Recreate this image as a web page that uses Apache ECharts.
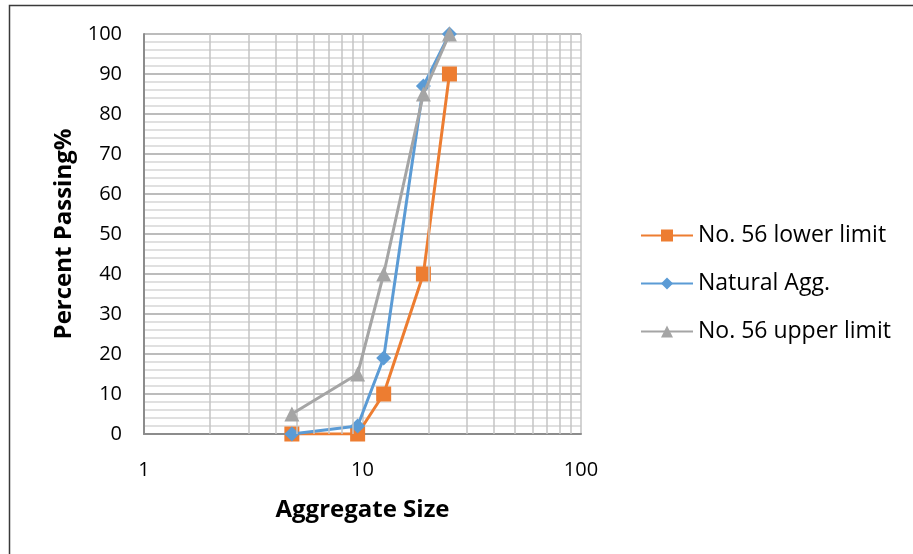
<!DOCTYPE html>
<html>
<head>
<meta charset="utf-8">
<script src="https://cdn.jsdelivr.net/npm/echarts@6/dist/echarts.min.js"></script>
<style>
  html, body { margin: 0; padding: 0; background: #fff; }
  #chart { width: 913px; height: 554px; }
</style>
</head>
<body>
<div id="chart"></div>
<script>
// Sieve sizes (mm) and percent passing for each gradation curve
const sieveSizes = [4.75, 9.5, 12.5, 19, 25];
const lowerLimit = [0, 0, 10, 40, 90];
const naturalAgg = [0, 2, 19, 87, 100];
const upperLimit = [5, 15, 40, 85, 100];
const seriesNames = ['No. 56 lower limit', 'Natural Agg.', 'No. 56 upper limit'];
// Log-scale minor grid positions
const minorX = [2, 3, 4, 5, 6, 7, 8, 9, 20, 30, 40, 50, 60, 70, 80, 90];

const pairs = (ys) => sieveSizes.map((x, i) => [x, ys[i]]);
const font = '"Open Sans", "Liberation Sans", sans-serif';

const chart = echarts.init(document.getElementById('chart'), null, { renderer: 'canvas' });

chart.setOption({
  backgroundColor: '#ffffff',
  animation: false,
  graphic: [{
    type: 'rect',
    shape: { x: 9.5, y: 5.5, width: 1200, height: 1200 },
    style: { fill: 'none', stroke: '#3a3a3a', lineWidth: 1.5 },
    silent: true
  }],
  grid: { left: 144, top: 34, right: 332, bottom: 120 },
  xAxis: {
    type: 'log',
    logBase: 10,
    min: 1,
    max: 100,
    name: 'Aggregate Size',
    nameLocation: 'middle',
    nameGap: 64,
    nameTextStyle: { fontFamily: font, fontSize: 24, fontWeight: 'bold', color: '#000' },
    axisLine: { show: true, onZero: false, lineStyle: { color: '#8c8c8c', width: 2 } },
    axisTick: { show: false },
    axisLabel: { fontFamily: font, fontSize: 20, color: '#000', margin: 26 },
    splitLine: { show: true, lineStyle: { color: '#c4c4c4', width: 1.5 } }
  },
  yAxis: {
    type: 'value',
    min: 0,
    max: 100,
    interval: 10,
    name: 'Percent Passing%',
    nameLocation: 'middle',
    nameGap: 68,
    nameTextStyle: { fontFamily: font, fontSize: 24, fontWeight: 'bold', color: '#000' },
    axisLine: { show: true, lineStyle: { color: '#8c8c8c', width: 2 } },
    axisTick: { show: false },
    axisLabel: { fontFamily: font, fontSize: 20, color: '#000', margin: 22 },
    splitLine: { show: true, lineStyle: { color: '#a6a6a6', width: 1.5 } },
    minorTick: { show: false, splitNumber: 5 },
    minorSplitLine: { show: true, lineStyle: { color: '#d6d6d6', width: 1.5 } }
  },
  legend: {
    orient: 'vertical',
    left: 640,
    top: 224,
    padding: 0,
    itemGap: 25,
    itemWidth: 52,
    itemHeight: 15,
    textStyle: { fontFamily: font, fontSize: 23, color: '#000' },
    data: seriesNames
  },
  series: [
    {
      name: 'minor-grid',
      type: 'line',
      data: [],
      silent: true,
      markLine: {
        silent: true,
        symbol: ['none', 'none'],
        label: { show: false },
        lineStyle: { color: '#c4c4c4', width: 1.5, type: 'solid' },
        data: minorX.map(v => ({ xAxis: v }))
      },
      z: 1
    },
    {
      name: seriesNames[0],
      type: 'line',
      data: pairs(lowerLimit),
      symbol: 'rect',
      symbolSize: 15,
      lineStyle: { color: '#ED7D31', width: 3 },
      itemStyle: { color: '#ED7D31' },
      z: 3
    },
    {
      name: seriesNames[1],
      type: 'line',
      data: pairs(naturalAgg),
      symbol: 'diamond',
      symbolSize: 15,
      lineStyle: { color: '#5B9BD5', width: 3 },
      itemStyle: { color: '#5B9BD5' },
      z: 4
    },
    {
      name: seriesNames[2],
      type: 'line',
      data: pairs(upperLimit),
      symbol: 'triangle',
      symbolSize: 15,
      lineStyle: { color: '#A5A5A5', width: 3 },
      itemStyle: { color: '#A5A5A5' },
      z: 5
    }
  ]
});
</script>
</body>
</html>
